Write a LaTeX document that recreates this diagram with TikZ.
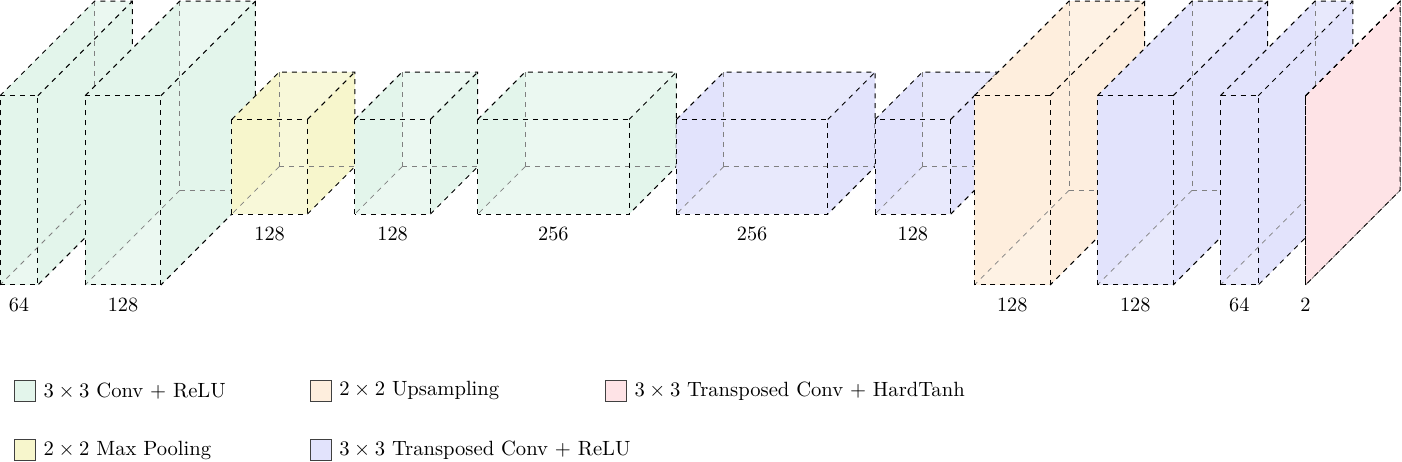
\documentclass[tikz,border=0pt]{standalone}
\usepackage{amsmath}
\usepackage{tikz}
\usetikzlibrary{positioning}

\definecolor{greenlight}{HTML}{EBF8F1}
\definecolor{greendark}{HTML}{E3F5EB}
\definecolor{yellowlight}{HTML}{F8F8D9}
\definecolor{yellowdark}{HTML}{F7F6CC}
\definecolor{bluelight}{HTML}{E8E9FC}
\definecolor{bluedark}{HTML}{E2E3FC}
\definecolor{orangelight}{HTML}{FEF2E4}
\definecolor{orangedark}{HTML}{FEEEDD}
\definecolor{redlight}{HTML}{FEE3E6}
\definecolor{reddark}{HTML}{FEE3E6}

\tikzset{
	frontedge/.style={draw=black, dashed, line width=0.6pt},
	backedge/.style={draw=black!50, dashed, line width=0.45pt},
	sizelabel/.style={scale=1.22, inner sep=0pt},
	swatch/.style={draw=black!75, line width=0.6pt, minimum size=0.45cm, inner sep=0pt},
	keytext/.style={scale=1.24, inner sep=0pt, right=0.15cm of #1},
}

% name, x, y, width, height, depth, colour, label
\newcommand{\cuboid}[8]{
	\coordinate (#1fl) at (#2,#3);
	\coordinate (#1fr) at ({#2+#4},#3);
	\coordinate (#1tl) at (#2,{#3+#5});
	\coordinate (#1tr) at ({#2+#4},{#3+#5});
	\coordinate (#1bfl) at ({#2+#6},{#3+#6});
	\coordinate (#1bfr) at ({#2+#4+#6},{#3+#6});
	\coordinate (#1btl) at ({#2+#6},{#3+#5+#6});
	\coordinate (#1btr) at ({#2+#4+#6},{#3+#5+#6});
	\fill[#7light] (#1fl) -- (#1tl) -- (#1btl) -- (#1btr) -- (#1bfr) -- (#1fr) -- cycle;
	\fill[#7dark] (#1fl) -- (#1tl) -- (#1btl) -- (#1bfl) -- cycle;
	\fill[#7dark] (#1fr) -- (#1tr) -- (#1btr) -- (#1bfr) -- cycle;
	\draw[backedge] (#1btl) -- (#1bfl);
	\draw[backedge] (#1bfl) -- (#1bfr);
	\draw[backedge] (#1bfl) -- (#1fl);
	\draw[frontedge] (#1fl) rectangle (#1tr);
	\draw[frontedge] (#1tl) -- (#1btl) -- (#1btr) -- (#1bfr) -- (#1fr);
	\draw[frontedge] (#1tr) -- (#1btr);
	\node[sizelabel] (#1label) at ({#2+#4/2},{#3-0.42}) {#8};
}

\begin{document}
\begin{tikzpicture}
	\useasboundingbox (0,-3.742) rectangle (29.64,6.025);

	% encoder
	\cuboid{convone}{0}{0}{0.8}{4}{2}{green}{64}
	\cuboid{convtwo}{1.8}{0}{1.6}{4}{2}{green}{128}
	\cuboid{pool}{4.9}{1.5}{1.6}{2}{1}{yellow}{128}
	\cuboid{convthree}{7.5}{1.5}{1.6}{2}{1}{green}{128}
	\cuboid{convfour}{10.1}{1.5}{3.2}{2}{1}{green}{256}

	% decoder
	\cuboid{transone}{14.3}{1.5}{3.2}{2}{1}{blue}{256}
	\cuboid{transtwo}{18.5}{1.5}{1.6}{2}{1}{blue}{128}
	\cuboid{upsample}{20.6}{0}{1.6}{4}{2}{orange}{128}
	\cuboid{transthree}{23.2}{0}{1.6}{4}{2}{blue}{128}
	\cuboid{transfour}{25.8}{0}{0.8}{4}{2}{blue}{64}
	\cuboid{output}{27.6}{0}{0}{4}{2}{red}{2}

	% legend
	\node[swatch, fill=greendark] (keyconv) at (0.53,-2.24) {};
	\node[keytext=keyconv] (keyconvtext) {$3\times 3$ Conv $+$ ReLU};
	\node[swatch, fill=yellowdark] (keypool) at (0.53,-3.49) {};
	\node[keytext=keypool] (keypooltext) {$2\times 2$ Max Pooling};
	\node[swatch, fill=orangedark] (keyup) at (6.78,-2.24) {};
	\node[keytext=keyup] (keyuptext) {$2\times 2$ Upsampling};
	\node[swatch, fill=bluedark] (keytrans) at (6.78,-3.49) {};
	\node[keytext=keytrans] (keytranstext) {$3\times 3$ Transposed Conv $+$ ReLU};
	\node[swatch, fill=redlight] (keytanh) at (13.02,-2.24) {};
	\node[keytext=keytanh] (keytanhtext) {$3\times 3$ Transposed Conv $+$ HardTanh};
\end{tikzpicture}
\end{document}
